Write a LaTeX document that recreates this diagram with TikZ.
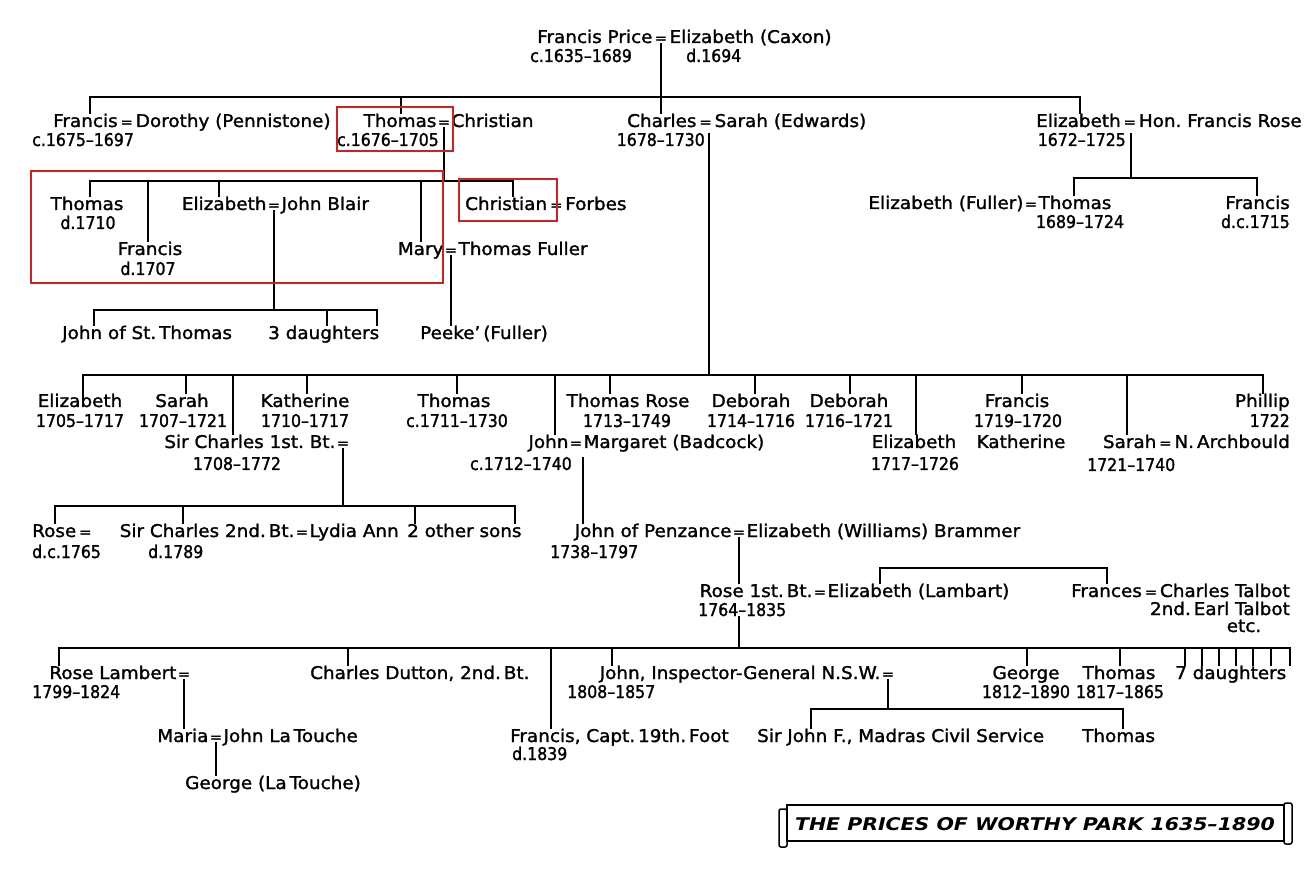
\documentclass[tikz,border=0pt]{standalone}
\usepackage{fontspec}
\usepackage{xcolor}
\usetikzlibrary{positioning}
\setmainfont{DejaVu Sans}
\newfontfamily\plainfam{DejaVu Sans}[Ligatures=TeX, FakeStretch=1.05, FakeBold=1.5]
\newfontfamily\datefam{DejaVu Sans}[Ligatures=TeX, FakeStretch=0.9, FakeBold=1.5]
\newfontfamily\titlefam{DejaVu Sans}[Ligatures=TeX, FakeStretch=1.17]
\newcommand\kinfont{\fontsize{17.5}{20}\plainfam}
\newcommand\yearfont{\fontsize{17.5}{20}\datefam}
\newcommand\eqfont{\fontsize{14}{14}\plainfam}
\newcommand\marr{\,{\eqfont=}\,}
\definecolor{boxred}{RGB}{210,32,32}

\begin{document}
\begin{tikzpicture}[x=1pt, y=-1pt,
  kin/.style={line width=1.8pt},
  person/.style={inner sep=0pt, font=\kinfont},
  years/.style={inner sep=0pt, font=\yearfont},
  eqs/.style={inner sep=0pt, font=\eqfont, anchor=base},
  redbox/.style={draw=boxred, line width=2.8pt}]
  \fill[white] (0,0) rectangle (1315,874);
  \useasboundingbox (0,0) rectangle (1315,874);

  % Francis Price = Elizabeth (Caxon)
  \node[eqs] (fpE) at (661,43) {=};
  \node[person, base left=2pt of fpE] (fpL) {Francis Price};
  \node[person, base right=2pt of fpE] (fpR) {Elizabeth (Caxon)};
  \node[years, anchor=base west] (fpD) at (530,62) {c.1635--1689};
  \node[years, anchor=base west] (ecD) at (686,62) {d.1694};

  % Their children
  \node[person, anchor=base west] (frD) at (53,127) {Francis\marr Dorothy (Pennistone)};
  \node[years, anchor=base west] (frDt) at (32,146) {c.1675--1697};
  \node[eqs] (tcE) at (444,127) {=};
  \node[person, base left=1pt of tcE] (tcL) {Thomas};
  \node[person, base right=1pt of tcE] (tcR) {Christian};
  \node[years, anchor=base east] (tcD) at (439,146) {c.1676--1705};
  \node[person, anchor=base west] (chS) at (627,127) {Charles\marr Sarah (Edwards)};
  \node[years, anchor=base east] (chD) at (705,146) {1678--1730};
  \node[person, anchor=base west] (ehR) at (1036,127) {Elizabeth\marr Hon.\ Francis Rose};
  \node[years, anchor=base east] (ehD) at (1126,146) {1672--1725};

  \draw[kin] (fpE.south) -- (fpE.south |- chS.north);
  \draw[kin] (90,97 |- frD.north) -- (90,97) -- (1080,97) -- (1080,97 |- ehR.north);
  \draw[kin] (401,97) -- (401,97 |- tcL.north);

  % Thomas = Christian
  \node[person, anchor=base] (tA) at (87,210) {Thomas};
  \node[years, anchor=base] (tAd) at (88,229) {d.1710};
  \node[person, anchor=base] (fB) at (150,255) {Francis};
  \node[years, anchor=base] (fBd) at (148,275) {d.1707};
  \node[eqs] (ejE) at (274,210) {=};
  \node[person, base left=1pt of ejE] (ejL) {Elizabeth};
  \node[person, base right=1pt of ejE] (ejR) {John Blair};
  \node[eqs] (mfE) at (451,255) {=};
  \node[person, base left=1pt of mfE] (mfL) {Mary};
  \node[person, base right=1pt of mfE] (mfR) {Thomas Fuller};
  \node[person, anchor=base west] (cf) at (465,210) {Christian\marr Forbes};

  \draw[kin] (tcE.south) -- (444,181);
  \draw[kin] (90,181 |- tA.north) -- (90,181) -- (513,181) -- (513,181 |- cf.north);
  \draw[kin] (148,181) -- (148,181 |- fB.north);
  \draw[kin] (219,181) -- (219,181 |- ejL.north);
  \draw[kin] (421,181) -- (421,181 |- mfL.north);

  % Elizabeth = John Blair, Mary = Thomas Fuller
  \node[person, anchor=base west] (jst) at (62,339) {John of St.\,Thomas};
  \node[person, anchor=base west] (dau3) at (268,339) {3 daughters};
  \node[person, anchor=base west] (pk) at (420,339) {Peeke'\,(Fuller)};
  \draw[kin] (ejE.south) -- (274,310);
  \draw[kin] (94,310 |- jst.north) -- (94,310) -- (377,310) -- (377,310 |- dau3.north);
  \draw[kin] (327,310) -- (327,310 |- dau3.north);
  \draw[kin] (mfE.south) -- (mfE.south |- pk.north);

  % Elizabeth = Hon. Francis Rose
  \node[eqs] (efE) at (1031,209) {=};
  \node[person, base left=1pt of efE] (efL) {Elizabeth (Fuller)};
  \node[person, base right=1pt of efE] (efR) {Thomas};
  \node[years, anchor=base] (efD) at (1080,228) {1689--1724};
  \node[person, anchor=base east] (frC) at (1290,209) {Francis};
  \node[years, anchor=base east] (frCd) at (1290,228) {d.c.1715};
  \draw[kin] (1131,0 |- ehD.north) -- (1131,178);
  \draw[kin] (1074,178 |- efR.north) -- (1074,178) -- (1257,178) -- (1257,178 |- frC.north);

  % Charles = Sarah (Edwards)
  \node[person, anchor=base] (e1) at (80,407) {Elizabeth};
  \node[years, anchor=base] (e1d) at (80,427) {1705--1717};
  \node[person, anchor=base] (s1) at (182,407) {Sarah};
  \node[years, anchor=base] (s1d) at (183,427) {1707--1721};
  \node[person, anchor=base] (k1) at (305,407) {Katherine};
  \node[years, anchor=base] (k1d) at (305,427) {1710--1717};
  \node[person, anchor=base] (t1) at (454,407) {Thomas};
  \node[years, anchor=base] (t1d) at (457,427) {c.1711--1730};
  \node[person, anchor=base] (tr) at (628,407) {Thomas Rose};
  \node[years, anchor=base] (trd) at (627,427) {1713--1749};
  \node[person, anchor=base] (d1) at (751,407) {Deborah};
  \node[years, anchor=base] (d1d) at (751,427) {1714--1716};
  \node[person, anchor=base] (d2) at (849,407) {Deborah};
  \node[years, anchor=base] (d2d) at (849,427) {1716--1721};
  \node[person, anchor=base] (f1) at (1017,407) {Francis};
  \node[years, anchor=base] (f1d) at (1018,427) {1719--1720};
  \node[person, anchor=base east] (ph) at (1290,407) {Phillip};
  \node[years, anchor=base east] (phd) at (1290,427) {1722};

  \node[eqs] (sc1E) at (343,448) {=};
  \node[person, base left=1pt of sc1E] (sc1L) {Sir Charles 1st.\ Bt.};
  \node[years, anchor=base] (sc1D) at (237,470) {1708--1772};
  \node[eqs] (jmE) at (576,448) {=};
  \node[person, base left=1pt of jmE] (jmL) {John};
  \node[person, base right=1pt of jmE] (jmR) {Margaret (Badcock)};
  \node[years, anchor=base east] (jmD) at (572,470) {c.1712--1740};
  \node[person, anchor=base] (e2) at (914,448) {Elizabeth};
  \node[years, anchor=base] (e2d) at (915,470) {1717--1726};
  \node[person, anchor=base] (k2) at (1021,448) {Katherine};
  \node[person, anchor=base east] (sa) at (1290,448) {Sarah\marr N.\,Archbould};
  \node[years, anchor=base west] (sad) at (1087,471) {1721--1740};

  \draw[kin] (709,0 |- chD.north) -- (709,375);
  \draw[kin] (83,375 |- e1.north) -- (83,375) -- (1263,375) -- (1263,375 |- ph.north);
  \draw[kin] (186,375) -- (186,375 |- s1.north);
  \draw[kin] (233,375) -- (233,375 |- sc1L.north);
  \draw[kin] (307,375) -- (307,375 |- k1.north);
  \draw[kin] (457,375) -- (457,375 |- t1.north);
  \draw[kin] (555,375) -- (555,375 |- jmL.north);
  \draw[kin] (610,375) -- (610,375 |- tr.north);
  \draw[kin] (755,375) -- (755,375 |- d1.north);
  \draw[kin] (850,375) -- (850,375 |- d2.north);
  \draw[kin] (916,375) -- (916,375 |- e2.north);
  \draw[kin] (1022,375) -- (1022,375 |- f1.north);
  \draw[kin] (1127,375) -- (1127,375 |- sa.north);

  % Sir Charles 1st. Bt.
  \node[person, anchor=base west] (rs) at (32,537) {Rose\marr};
  \node[years, anchor=base west] (rsd) at (32,558) {d.c.1765};
  \node[eqs] (sc2E) at (302,537) {=};
  \node[person, base left=1pt of sc2E] (sc2L) {Sir Charles 2nd.\,Bt.};
  \node[person, base right=1pt of sc2E] (sc2R) {Lydia Ann};
  \node[years, anchor=base west] (sc2D) at (148,558) {d.1789};
  \node[person, anchor=base west] (os) at (407,537) {2 other sons};
  \draw[kin] (sc1E.south) -- (343,506);
  \draw[kin] (55,506 |- rs.north) -- (55,506) -- (515,506) -- (515,506 |- os.north);
  \draw[kin] (183,506) -- (183,506 |- sc2L.north);
  \draw[kin] (415,506) -- (415,506 |- os.north);

  % John of Penzance
  \node[eqs] (jpE) at (739,537) {=};
  \node[person, base left=1pt of jpE] (jpL) {John of Penzance};
  \node[person, base right=1pt of jpE] (jpR) {Elizabeth (Williams) Brammer};
  \node[years, anchor=base west] (jpD) at (550,558) {1738--1797};
  \draw[kin] (583,0 |- jmD.north) -- (583,0 |- jpL.north);

  % Rose 1st. Bt.
  \node[eqs] (r1E) at (820,597) {=};
  \node[person, base left=1pt of r1E] (r1L) {Rose 1st.\,Bt.};
  \node[person, base right=1pt of r1E] (r1R) {Elizabeth (Lambart)};
  \node[years, anchor=base west] (r1D) at (698,616) {1764--1835};
  \node[person, anchor=base east] (fct) at (1290,597) {Frances\marr Charles Talbot};
  \node[person, anchor=base east] (fct2) at (1290,615) {2nd.\,Earl Talbot};
  \node[person, anchor=base] (fct3) at (1244,632) {etc.};
  \draw[kin] (jpE.south) -- (jpE.south |- r1L.north);
  \draw[kin] (880,568 |- r1R.north) -- (880,568) -- (1107,568) -- (1107,568 |- fct.north);

  % Children of Rose 1st. Bt.
  \node[eqs] (rlE) at (184,679) {=};
  \node[person, base left=1pt of rlE] (rlL) {Rose Lambert};
  \node[years, anchor=base west] (rlD) at (32,698) {1799--1824};
  \node[person, anchor=base west] (cd) at (310,679) {Charles Dutton, 2nd.\,Bt.};
  \node[eqs] (jiE) at (888,679) {=};
  \node[person, base left=1pt of jiE] (jiL) {John, Inspector-General N.S.W.};
  \node[years, anchor=base west] (jiD) at (567,698) {1808--1857};
  \node[person, anchor=base] (g1) at (1026,679) {George};
  \node[years, anchor=base] (g1d) at (1026,698) {1812--1890};
  \node[person, anchor=base] (t2) at (1119,679) {Thomas};
  \node[years, anchor=base] (t2d) at (1120,698) {1817--1865};
  \node[person, anchor=base west] (d7) at (1175,679) {7 daughters};
  \node[person, anchor=base west] (fc) at (510,742) {Francis, Capt.\,19th.\,Foot};
  \node[years, anchor=base west] (fcd) at (512,760) {d.1839};

  \draw[kin] (739,0 |- r1D.south) -- (739,648);
  \draw[kin] (59,648 |- rlL.north) -- (59,648) -- (1290,648) -- (1290,648 |- d7.north);
  \draw[kin] (348,648) -- (348,648 |- cd.north);
  \draw[kin] (551,648) -- (551,648 |- fc.north);
  \draw[kin] (612,648) -- (612,648 |- jiL.north);
  \draw[kin] (1027,648) -- (1027,648 |- g1.north);
  \draw[kin] (1120,648) -- (1120,648 |- t2.north);
  \foreach \dx in {1185,1202,1219,1236,1253,1271}
    \draw[kin] (\dx,648) -- (\dx,648 |- d7.north); % 7 daughters

  % Rose Lambert, Maria
  \node[eqs] (maE) at (216,742) {=};
  \node[person, base left=1pt of maE] (maL) {Maria};
  \node[person, base right=1pt of maE] (maR) {John La\,Touche};
  \node[person, anchor=base west] (glt) at (185,789) {George (La\,Touche)};
  \draw[kin] (rlE.south) -- (rlE.south |- maL.north);
  \draw[kin] (maE.south) -- (maE.south |- glt.north);

  % John, Inspector-General
  \node[person, anchor=base west] (sj) at (757,742) {Sir John F., Madras Civil Service};
  \node[person, anchor=base west] (t3) at (1082,742) {Thomas};
  \draw[kin] (jiE.south) -- (888,709);
  \draw[kin] (811,709 |- sj.north) -- (811,709) -- (1123,709) -- (1123,709 |- t3.north);

  % Red marks
  \draw[redbox] (337,107) rectangle (453,151);
  \draw[redbox] (31,171) rectangle (443,283);
  \draw[redbox] (459,179) rectangle (557,221);

  % Title scroll
  \draw[line width=1.8pt] (787,805) rectangle (1284,841);
  \draw[line width=1.5pt, rounded corners=2pt] (779,809) rectangle (787,847);
  \draw[line width=1.5pt, rounded corners=2pt] (1284,803) rectangle (1292,844);
  \node[inner sep=0pt, anchor=base, font=\fontsize{17.5}{20}\titlefam\bfseries\itshape] (ttl) at (1035,830) {THE PRICES OF WORTHY PARK 1635--1890};
\end{tikzpicture}
\end{document}
